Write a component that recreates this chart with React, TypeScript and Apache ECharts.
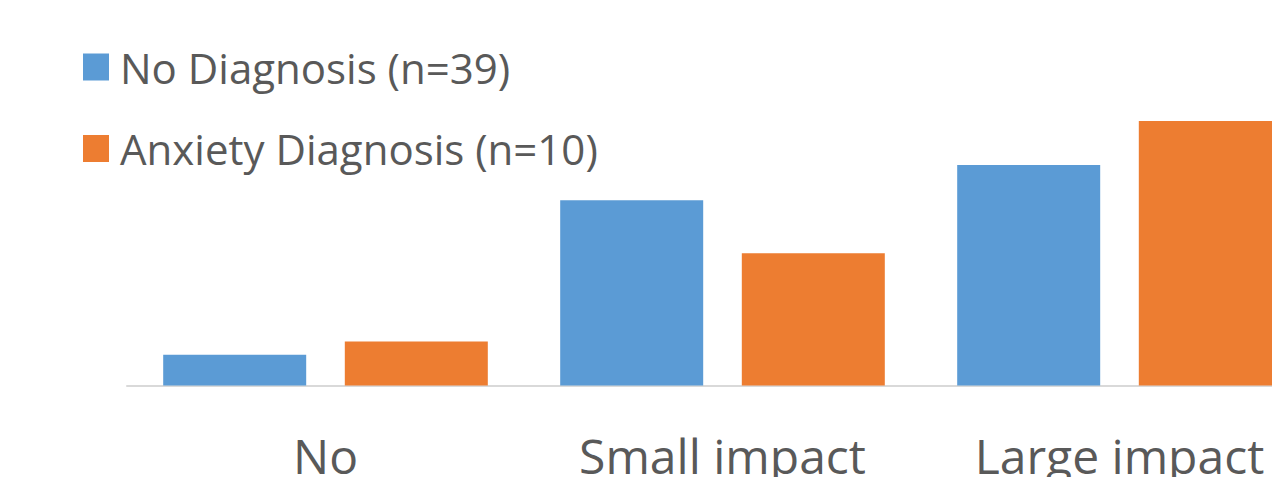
import React, { useEffect, useRef } from "react";
import * as echarts from "echarts";

const categories = ["No", "Small impact", "Large impact"];
const seriesNames = ["No Diagnosis (n=39)", "Anxiety Diagnosis (n=10)"];
const noDiagnosis = [7, 42, 50];
const anxietyDiagnosis = [10, 30, 60];
const colors = ["#5B9BD5", "#ED7D31"];

export default function App() {
  const ref = useRef<HTMLDivElement>(null);
  useEffect(() => {
    document.body.style.margin = "0";
    const chart = echarts.init(ref.current!, null, { renderer: "svg" });
    chart.setOption({
      animation: false,
      backgroundColor: "#ffffff",
      textStyle: { fontFamily: "Open Sans" },
      legend: {
        orient: "vertical",
        left: 83,
        top: 46,
        padding: 0,
        itemWidth: 26,
        itemHeight: 27,
        itemGap: 39.5,
        icon: "rect",
        textStyle: { fontSize: 42, lineHeight: 40, color: "#595959", fontFamily: "Open Sans", padding: [0, 0, 0, 6] },
        data: seriesNames,
      },
      grid: { left: 127, width: 1191, top: 121, height: 264.5, containLabel: false, outerBoundsMode: "none" },
      xAxis: {
        type: "category",
        data: categories,
        axisLine: { show: true, lineStyle: { color: "#D9D9D9", width: 2 } },
        axisTick: { show: false },
        axisLabel: { fontSize: 48, color: "#595959", margin: 46, fontFamily: "Open Sans" },
      },
      yAxis: { type: "value", min: 0, max: 60, show: false, splitLine: { show: false } },
      series: [
        { name: seriesNames[0], type: "bar", data: noDiagnosis, barWidth: 143, barGap: "27%", itemStyle: { color: colors[0] } },
        { name: seriesNames[1], type: "bar", data: anxietyDiagnosis, barWidth: 143, barGap: "27%", itemStyle: { color: colors[1] } },
      ],
    });
    return () => chart.dispose();
  }, []);
  return <div ref={ref} style={{ width: 1272, height: 477 }} />;
}
